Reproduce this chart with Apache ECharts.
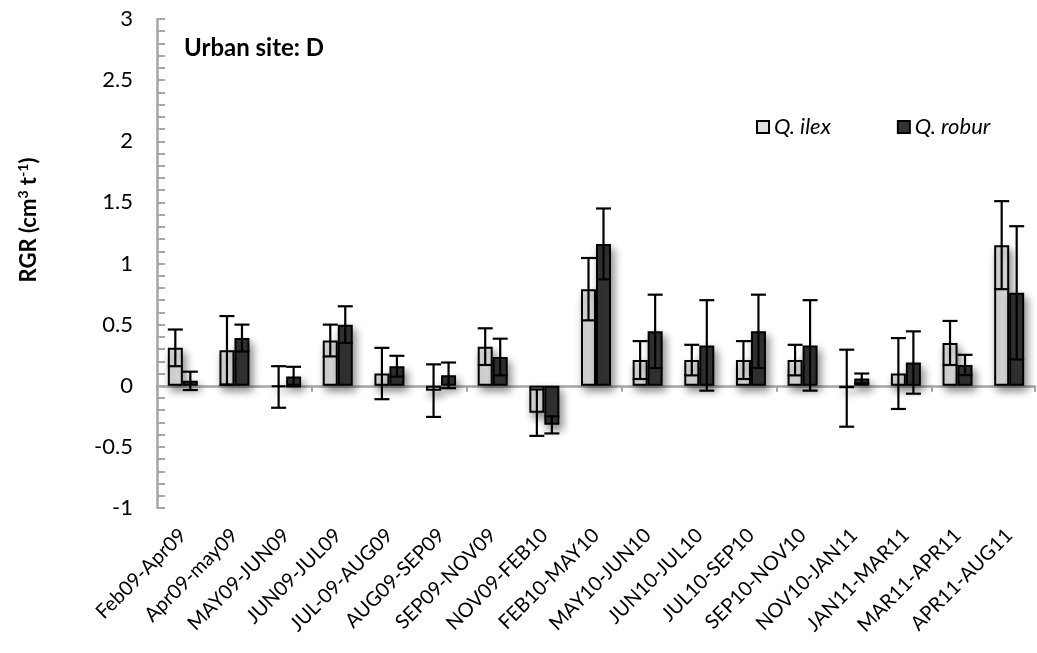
<!DOCTYPE html>
<html>
<head>
<meta charset="utf-8">
<script src="https://cdn.jsdelivr.net/npm/echarts@6/dist/echarts.min.js"></script>
<style>
html,body{margin:0;padding:0;background:#fff;}
#chart{width:1037px;height:653px;}
</style>
</head>
<body>
<div id="chart"></div>
<script>
// ---- data ----
const categories = ['Feb09-Apr09','Apr09-may09','MAY09-JUN09','JUN09-JUL09','JUL-09-AUG09','AUG09-SEP09','SEP09-NOV09','NOV09-FEB10','FEB10-MAY10','MAY10-JUN10','JUN10-JUL10','JUL10-SEP10','SEP10-NOV10','NOV10-JAN11','JAN11-MAR11','MAR11-APR11','APR11-AUG11'];
const ilexValues = [0.31, 0.29, -0.01, 0.37, 0.10, -0.04, 0.32, -0.22, 0.79, 0.21, 0.21, 0.21, 0.21, -0.02, 0.10, 0.35, 1.15];
const ilexErrors = [0.15, 0.28, 0.17, 0.13, 0.21, 0.215, 0.15, 0.19, 0.255, 0.155, 0.125, 0.155, 0.125, 0.315, 0.29, 0.18, 0.36];
const roburValues = [0.04, 0.39, 0.075, 0.50, 0.16, 0.085, 0.235, -0.32, 1.16, 0.445, 0.33, 0.445, 0.33, 0.06, 0.19, 0.17, 0.76];
const roburErrors = [0.075, 0.11, 0.08, 0.15, 0.085, 0.105, 0.15, 0.07, 0.29, 0.30, 0.37, 0.30, 0.37, 0.04, 0.255, 0.083, 0.545];
const seriesNames = ['Q. ilex', 'Q. robur'];
const yTicks = {min: -1, max: 3, interval: 0.5};

// ---- style ----
const FONT = 'Lato, "Open Sans", sans-serif';
const BAR_W = 15;
const CAP_W = 15;
const AXIS_GRAY = '#a6a6a6';

function errData(vals, errs) {
  return vals.map((v, i) => [i, v - errs[i], v + errs[i]]);
}
function errRenderer(sign) {
  return function (params, api) {
    const i = api.value(0);
    const lo = api.coord([i, api.value(1)]);
    const hi = api.coord([i, api.value(2)]);
    const x = lo[0] + sign * BAR_W / 2;
    const h = CAP_W / 2;
    const st = {stroke: '#000', lineWidth: 2.2};
    return {
      type: 'group',
      children: [
        {type: 'line', shape: {x1: x, y1: lo[1], x2: x, y2: hi[1]}, style: st},
        {type: 'line', shape: {x1: x - h, y1: lo[1], x2: x + h, y2: lo[1]}, style: st},
        {type: 'line', shape: {x1: x - h, y1: hi[1], x2: x + h, y2: hi[1]}, style: st}
      ]
    };
  };
}

const barShadow = {shadowBlur: 8, shadowOffsetX: 3, shadowOffsetY: 5, shadowColor: 'rgba(0,0,0,0.45)'};

const chart = echarts.init(document.getElementById('chart'), null, {renderer: 'canvas'});
chart.setOption({
  animation: false,
  backgroundColor: '#fff',
  textStyle: {fontFamily: FONT},
  title: {
    text: 'Urban site: D',
    left: 179, top: 31,
    textStyle: {fontFamily: FONT, fontSize: 24, fontWeight: 'bold', color: '#000'}
  },
  legend: {
    data: seriesNames,
    left: 751, top: 111,
    itemWidth: 12, itemHeight: 12,
    itemGap: 66,
    icon: 'rect',
    itemStyle: {borderColor: '#000', borderWidth: 2, shadowBlur: 0, shadowOffsetX: 0, shadowOffsetY: 0, shadowColor: 'transparent'},
    textStyle: {fontFamily: FONT, fontSize: 22, fontStyle: 'italic', color: '#000'}
  },
  graphic: [{
    type: 'text',
    x: 29, y: 220,
    rotation: Math.PI / 2,
    style: {
      text: '{a|RGR (cm}{s|3}{a| t}{s|-1}{a|)}',
      align: 'center', verticalAlign: 'middle',
      fill: '#000',
      rich: {
        a: {fontFamily: FONT, fontSize: 22, fontWeight: 'bold', fill: '#000', lineHeight: 26},
        s: {fontFamily: FONT, fontSize: 14, fontWeight: 'bold', fill: '#000', padding: [0, 0, 11, 0], lineHeight: 26}
      }
    }
  }],
  grid: {left: 157, right: 2, top: 19, bottom: 145, containLabel: false},
  xAxis: [{
    type: 'category',
    data: categories,
    position: 'bottom',
    axisLine: {onZero: true, lineStyle: {color: AXIS_GRAY, width: 2.5}},
    axisTick: {show: true, length: 6, lineStyle: {color: AXIS_GRAY, width: 2}},
    axisLabel: {show: false},
    splitLine: {show: false}
  }, {
    type: 'category',
    data: categories,
    position: 'bottom',
    axisLine: {show: false, onZero: false},
    axisTick: {show: false},
    axisLabel: {show: true, rotate: 45, margin: 24, fontFamily: FONT, fontSize: 20, color: '#000', interval: 0},
    splitLine: {show: false}
  }],
  yAxis: {
    type: 'value',
    min: yTicks.min, max: yTicks.max, interval: yTicks.interval,
    axisLine: {show: true, lineStyle: {color: AXIS_GRAY, width: 2.5}},
    axisTick: {show: true, inside: true, length: 8, lineStyle: {color: AXIS_GRAY, width: 2}},
    minorTick: {show: true, splitNumber: 5, length: 8, lineStyle: {color: AXIS_GRAY, width: 2}},
    axisLabel: {fontFamily: FONT, fontSize: 22, color: '#000', margin: 24},
    splitLine: {show: false}
  },
  series: [{
    name: seriesNames[0],
    type: 'bar',
    xAxisIndex: 0,
    data: ilexValues,
    barWidth: BAR_W,
    barGap: '0%',
    itemStyle: Object.assign({color: '#dfdfdf', borderColor: '#000', borderWidth: 2}, barShadow),
    z: 2
  }, {
    name: seriesNames[1],
    type: 'bar',
    xAxisIndex: 0,
    data: roburValues,
    barWidth: BAR_W,
    barGap: '0%',
    itemStyle: Object.assign({color: '#333333', borderColor: '#000', borderWidth: 2}, barShadow),
    z: 2
  }, {
    name: 'ilexErr',
    type: 'custom',
    xAxisIndex: 0,
    data: errData(ilexValues, ilexErrors),
    renderItem: errRenderer(-1),
    z: 5,
    silent: true
  }, {
    name: 'roburErr',
    type: 'custom',
    xAxisIndex: 0,
    data: errData(roburValues, roburErrors),
    renderItem: errRenderer(1),
    z: 5,
    silent: true
  }]
});
</script>
</body>
</html>
